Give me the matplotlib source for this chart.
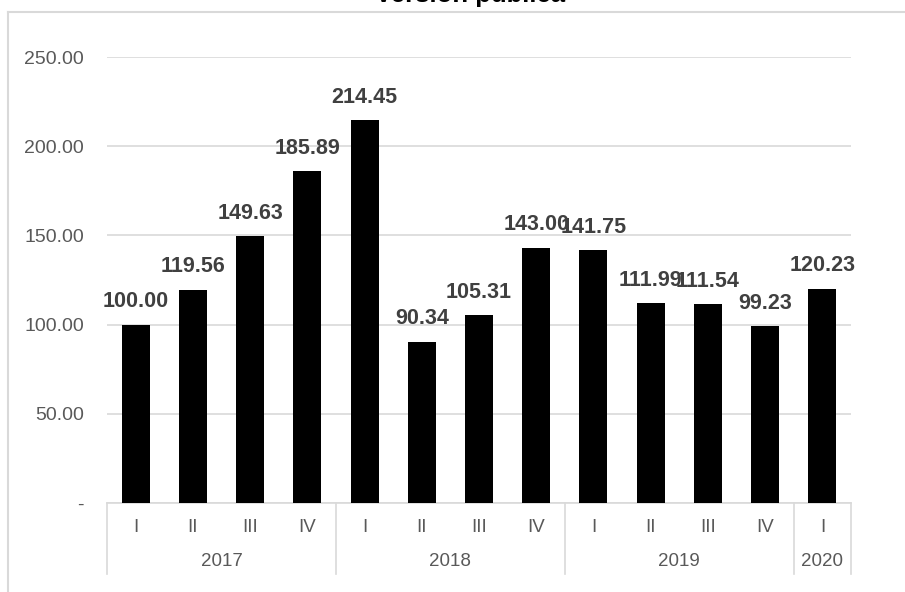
import numpy as np
import matplotlib
matplotlib.use("Agg")
import matplotlib.pyplot as plt
from matplotlib.lines import Line2D

plt.rcParams['font.family'] = ['Liberation Sans', 'DejaVu Sans']

# data
quarters = ["I", "II", "III", "IV", "I", "II", "III", "IV", "I", "II", "III", "IV", "I"]
years = ["2017", "2018", "2019", "2020"]
year_sizes = [4, 4, 4, 1]
values = [100.00, 119.56, 149.63, 185.89, 214.45, 90.34, 105.31, 143.00,
          141.75, 111.99, 111.54, 99.23, 120.23]
yticks = [0, 50, 100, 150, 200, 250]

W, H = 905, 592
fig = plt.figure(figsize=(W / 100, H / 100), dpi=100)
ax = fig.add_axes([107 / W, 1 - 503 / H, (851 - 107) / W, (503 - 57) / H])

x = np.arange(len(values))
ax.bar(x, values, width=0.49, color="black", zorder=3)

for xi, v in zip(x, values):
    ax.annotate(f"{v:.2f}", (xi, v), xytext=(0, 16.5), textcoords="offset points",
                ha="center", va="center", fontsize=15.5, fontweight="bold",
                color="#404040", clip_on=False, zorder=4)

ax.set_xlim(-0.5, len(values) - 0.5)
ax.set_ylim(0, 250)
ax.set_yticks(yticks)
ax.set_yticklabels(["-" if t == 0 else f"{t:.2f}" for t in yticks])
ax.tick_params(axis="y", length=0, pad=16.5, labelsize=14, labelcolor="#595959")
ax.tick_params(axis="x", length=0, labelbottom=False)
ax.grid(axis="y", color="#d9d9d9", linewidth=1.2, zorder=0)
for s in ["top", "right", "left"]:
    ax.spines[s].set_visible(False)
ax.spines["bottom"].set_color("#d9d9d9")
ax.spines["bottom"].set_linewidth(1.2)

# two-level category axis
trans = ax.get_xaxis_transform()
for xi, q in zip(x, quarters):
    ax.text(xi, -0.054, q, transform=trans, ha="center", va="center",
            fontsize=13.5, color="#595959")
start = 0
bounds = [-0.5]
for yr, n in zip(years, year_sizes):
    mid = start + (n - 1) / 2
    ax.text(mid, -0.132, yr, transform=trans, ha="center", va="center",
            fontsize=13.5, color="#595959")
    start += n
    bounds.append(start - 0.5)
for b in bounds:
    ax.add_line(Line2D([b, b], [0, -0.159], transform=trans, color="#d9d9d9",
                       linewidth=1.2, clip_on=False))

# chart frame (cropped) and title
fig.add_artist(Line2D([8 / W, 8 / W], [1 - 12 / H, 0], color="#d9d9d9", linewidth=1.5))
fig.add_artist(Line2D([8 / W, 1], [1 - 12 / H, 1 - 12 / H], color="#d9d9d9", linewidth=1.5))
fig.text(470 / W, 1 - 2 / H, "Versión pública", ha="center", va="baseline",
         fontsize=18.5, fontweight="bold", color="black")

fig.savefig("out.png", dpi=100)
